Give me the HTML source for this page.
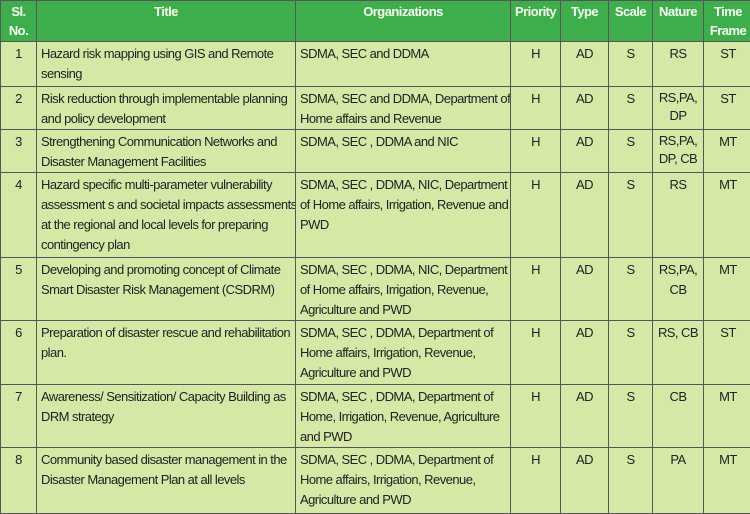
<!DOCTYPE html>
<html><head><meta charset="utf-8">
<style>
body{margin:0;width:750px;height:510px;overflow:hidden;background:#d5e8a6;font-family:"Liberation Sans",sans-serif;}
table{position:absolute;left:0;top:0;border-collapse:collapse;table-layout:fixed;width:752px;}
td,th{border:1px solid #555;vertical-align:top;padding:2px 4px 0 4px;font-size:13px;line-height:20px;color:#222;letter-spacing:-0.55px;overflow:hidden;white-space:nowrap}
th{background:#3dae4b;color:#f4fff0;font-weight:bold;text-align:center;line-height:19px;padding-top:1px;font-size:13px;}
td{background:#d5e8a6}
td.c{text-align:center}
</style></head><body>
<table>
<colgroup><col style="width:36px"><col style="width:259px"><col style="width:215px"><col style="width:50px"><col style="width:48px"><col style="width:44px"><col style="width:51px"><col style="width:49px"></colgroup>
<tr style="height:41px"><th>Sl.<br>No.</th><th>Title</th><th>Organizations</th><th>Priority</th><th>Type</th><th>Scale</th><th>Nature</th><th>Time<br>Frame</th></tr>
<tr style="height:45px"><td class="c">1</td><td>Hazard risk mapping using GIS and Remote<br>sensing</td><td>SDMA, SEC and DDMA</td><td class="c">H</td><td class="c">AD</td><td class="c">S</td><td class="c">RS</td><td class="c">ST</td></tr>
<tr style="height:43px"><td class="c">2</td><td>Risk reduction through implementable planning<br>and policy development</td><td>SDMA, SEC and DDMA, Department of<br>Home affairs and Revenue</td><td class="c">H</td><td class="c">AD</td><td class="c">S</td><td class="c" style="line-height:18px">RS,PA,<br>DP</td><td class="c">ST</td></tr>
<tr style="height:43px"><td class="c">3</td><td>Strengthening Communication Networks and<br>Disaster Management Facilities</td><td>SDMA, SEC , DDMA and NIC</td><td class="c">H</td><td class="c">AD</td><td class="c">S</td><td class="c" style="line-height:18px">RS,PA,<br>DP, CB</td><td class="c">MT</td></tr>
<tr style="height:85px"><td class="c">4</td><td>Hazard specific multi-parameter vulnerability<br>assessment s and societal impacts assessments<br>at the regional and local levels for preparing<br>contingency plan</td><td>SDMA, SEC , DDMA, NIC, Department<br>of Home affairs, Irrigation, Revenue and<br>PWD</td><td class="c">H</td><td class="c">AD</td><td class="c">S</td><td class="c">RS</td><td class="c">MT</td></tr>
<tr style="height:63px"><td class="c">5</td><td>Developing and promoting concept of Climate<br>Smart Disaster Risk Management (CSDRM)</td><td>SDMA, SEC , DDMA, NIC, Department<br>of Home affairs, Irrigation, Revenue,<br>Agriculture  and PWD</td><td class="c">H</td><td class="c">AD</td><td class="c">S</td><td class="c">RS,PA,<br>CB</td><td class="c">MT</td></tr>
<tr style="height:64px"><td class="c">6</td><td>Preparation of disaster rescue and rehabilitation<br>plan.</td><td>SDMA, SEC , DDMA, Department of<br>Home affairs, Irrigation, Revenue,<br>Agriculture  and PWD</td><td class="c">H</td><td class="c">AD</td><td class="c">S</td><td class="c">RS, CB</td><td class="c">ST</td></tr>
<tr style="height:62px"><td class="c">7</td><td>Awareness/ Sensitization/ Capacity Building as<br>DRM strategy</td><td>SDMA, SEC , DDMA, Department of<br>Home, Irrigation, Revenue, Agriculture<br>and PWD</td><td class="c">H</td><td class="c">AD</td><td class="c">S</td><td class="c">CB</td><td class="c">MT</td></tr>
<tr style="height:66px"><td class="c">8</td><td>Community based disaster management in the<br>Disaster Management Plan at all levels</td><td>SDMA, SEC , DDMA, Department of<br>Home affairs, Irrigation, Revenue,<br>Agriculture  and PWD</td><td class="c">H</td><td class="c">AD</td><td class="c">S</td><td class="c">PA</td><td class="c">MT</td></tr>
</table>
</body></html>
